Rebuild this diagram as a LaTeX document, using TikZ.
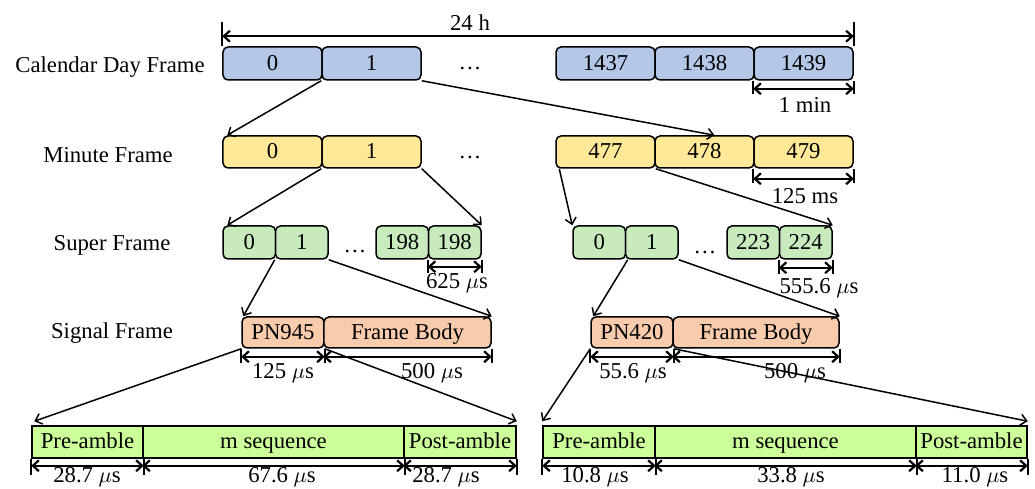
\documentclass[tikz,border=0pt]{standalone}
\usepackage{fontspec}
\setmainfont{Liberation Serif}
\usetikzlibrary{arrows.meta}

\definecolor{dayblue}{HTML}{B4C7E7}
\definecolor{minyellow}{HTML}{FFE999}
\definecolor{supgreen}{HTML}{C8EBBE}
\definecolor{sigorange}{HTML}{F8CBAD}
\definecolor{pktgreen}{HTML}{CCFF99}

\begin{document}
\begin{tikzpicture}[x=0.5bp, y=-0.5bp, font=\fontsize{11.4}{13}\selectfont,
    >={Straight Barb[length=3bp,width=5.5bp]},
    slot/.style={draw, line width=0.75bp, rounded corners=2.5bp, inner sep=0pt,
                 text height=7.8bp, text depth=0.8bp},
    dayslot/.style={slot, fill=dayblue, minimum width=49.5bp, minimum height=16.5bp},
    minslot/.style={slot, fill=minyellow, minimum width=49.5bp, minimum height=16bp},
    supslot/.style={slot, fill=supgreen, minimum width=26.25bp, minimum height=16.5bp},
    sigslot/.style={slot, fill=sigorange, minimum height=15.5bp},
    pktslot/.style={draw, line width=0.75bp, fill=pktgreen, inner sep=0pt, minimum height=16bp,
                    text height=7.8bp, text depth=1.2bp},
    link/.style={->, line width=0.75bp},
    dim/.style={<->, line width=1.1bp},
    tick/.style={line width=0.9bp}]
    \useasboundingbox (0,0) rectangle (1035,489);

    %%%%%%%%%%%%%%%%%%%%%%%%%%%%%%%%%%%%
    % row labels
    %%%%%%%%%%%%%%%%%%%%%%%%%%%%%%%%%%%%
    \node (rowday) at (110,67) {Calendar Day Frame};
    \node (rowmin) at (108,155) {Minute Frame};
    \node (rowsup) at (112,245) {Super Frame};
    \node (rowsig) at (112,333) {Signal Frame};

    %%%%%%%%%%%%%%%%%%%%%%%%%%%%%%%%%%%%
    % calendar day frame
    %%%%%%%%%%%%%%%%%%%%%%%%%%%%%%%%%%%%
    \node[dayslot] (cd0) at (272.5,63.5) {0};
    \node[dayslot] (cd1) at (371.5,63.5) {1};
    \node (cddots) at (470,68) {\ldots};
    \node[dayslot] (cd1437) at (605.5,63.5) {1437};
    \node[dayslot] (cd1438) at (704.5,63.5) {1438};
    \node[dayslot] (cd1439) at (803.5,63.5) {1439};

    \draw[tick] (cd0.north west) -- ++(0,-24);
    \draw[tick] (cd1439.north east) -- ++(0,-24);
    \draw[dim] ([shift={(0,-10)}]cd0.north west) -- ([shift={(0,-10)}]cd1439.north east);
    \node (lbl24h) at (470,23) {24 h};

    \draw[tick] (cd1439.south west) -- ++(0,13);
    \draw[tick] (cd1439.south east) -- ++(0,13);
    \draw[dim] ([shift={(0,8)}]cd1439.south west) -- ([shift={(0,8)}]cd1439.south east);
    \node (lbl1min) at (805,105) {1 min};

    %%%%%%%%%%%%%%%%%%%%%%%%%%%%%%%%%%%%
    % minute frame
    %%%%%%%%%%%%%%%%%%%%%%%%%%%%%%%%%%%%
    \node[minslot] (mf0) at (272.5,152) {0};
    \node[minslot] (mf1) at (371.5,152) {1};
    \node (mfdots) at (470,157) {\ldots};
    \node[minslot] (mf477) at (605.5,152) {477};
    \node[minslot] (mf478) at (704.5,152) {478};
    \node[minslot] (mf479) at (803.5,152) {479};

    \draw[tick] (mf479.south west) -- ++(0,14);
    \draw[tick] (mf479.south east) -- ++(0,14);
    \draw[dim] ([shift={(0,10)}]mf479.south west) -- ([shift={(0,10)}]mf479.south east);
    \node (lbl125ms) at (805,196) {125 ms};

    \draw[link] (cd1.south west) -- ([shift={(5,0)}]mf0.north west);
    \draw[link] (cd1.south east) -- ([shift={(10,0)}]mf478.north);

    %%%%%%%%%%%%%%%%%%%%%%%%%%%%%%%%%%%%
    % super frames
    %%%%%%%%%%%%%%%%%%%%%%%%%%%%%%%%%%%%
    \node[supslot] (sfa0) at (249.25,242.5) {0};
    \node[supslot] (sfa1) at (301.75,242.5) {1};
    \node (sfadots) at (355,251) {\ldots};
    \node[supslot] (sfa198) at (402.25,242.5) {198};
    \node[supslot] (sfa199) at (454.75,242.5) {198};

    \node[supslot] (sfb0) at (599.25,242.5) {0};
    \node[supslot] (sfb1) at (651.75,242.5) {1};
    \node (sfbdots) at (705,252) {\ldots};
    \node[supslot] (sfb223) at (753.25,242.5) {223};
    \node[supslot] (sfb224) at (805.75,242.5) {224};

    \draw[tick] (sfa199.south west) -- ++(0,13);
    \draw[tick] (sfa199.south east) -- ++(0,13);
    \draw[dim] ([shift={(0,7)}]sfa199.south west) -- ([shift={(0,7)}]sfa199.south east);
    \node (lbl625) at (457,283) {625 $\mu$s};

    \draw[tick] (sfb224.south west) -- ++(0,14);
    \draw[tick] (sfb224.south east) -- ++(0,14);
    \draw[dim] ([shift={(0,8)}]sfb224.south west) -- ([shift={(0,8)}]sfb224.south east);
    \node (lbl5556) at (819,288) {555.6 $\mu$s};

    \draw[link] (mf1.south west) -- ([shift={(5,0)}]sfa0.north west);
    \draw[link] (mf1.south east) -- (sfa199.north east);
    \draw[link] ([shift={(4,0)}]mf477.south west) -- (sfb0.north west);
    \draw[link] (mf477.south east) -- (sfb224.north east);

    %%%%%%%%%%%%%%%%%%%%%%%%%%%%%%%%%%%%
    % signal frames
    %%%%%%%%%%%%%%%%%%%%%%%%%%%%%%%%%%%%
    \node[sigslot, minimum width=41bp] (sga-pn) at (283,332.5) {PN945};
    \node[sigslot, minimum width=83.5bp] (sga-body) at (407.5,332.5) {Frame Body};
    \node[sigslot, minimum width=41bp] (sgb-pn) at (632,332.5) {PN420};
    \node[sigslot, minimum width=83bp] (sgb-body) at (756,332.5) {Frame Body};

    \foreach \a in {sga-pn.south west, sga-pn.south east, sga-body.south east,
                    sgb-pn.south west, sgb-pn.south east, sgb-body.south east}
        \draw[tick] (\a) -- ++(0,14);
    \draw[dim] ([shift={(0,8)}]sga-pn.south west) -- ([shift={(0,8)}]sga-pn.south east);
    \draw[dim] ([shift={(0,8)}]sga-body.south west) -- ([shift={(0,8)}]sga-body.south east);
    \draw[dim] ([shift={(0,8)}]sgb-pn.south west) -- ([shift={(0,8)}]sgb-pn.south east);
    \draw[dim] ([shift={(0,8)}]sgb-body.south west) -- ([shift={(0,8)}]sgb-body.south east);
    \node (lbl125us) at (283,373) {125 $\mu$s};
    \node (lbl500a) at (432,373) {500 $\mu$s};
    \node (lbl556) at (633,373) {55.6 $\mu$s};
    \node (lbl500b) at (795,373) {500 $\mu$s};

    \draw[link] (sfa1.south west) -- ([shift={(2,0)}]sga-pn.north west);
    \draw[link] (sfa1.south east) -- (sga-body.north east);
    \draw[link] ([shift={(3,0)}]sfb1.south west) -- ([shift={(3,0)}]sgb-pn.north west);
    \draw[link] (sfb1.south east) -- (sgb-body.north east);

    %%%%%%%%%%%%%%%%%%%%%%%%%%%%%%%%%%%%
    % PN sequences
    %%%%%%%%%%%%%%%%%%%%%%%%%%%%%%%%%%%%
    \node[pktslot, minimum width=55.5bp] (pka-pre) at (87.5,442) {Pre-amble};
    \node[pktslot, minimum width=130.5bp] (pka-seq) at (273.5,442) {m sequence};
    \node[pktslot, minimum width=56bp] (pka-post) at (460,442) {Post-amble};
    \node[pktslot, minimum width=56bp] (pkb-pre) at (599,442) {Pre-amble};
    \node[pktslot, minimum width=130.5bp] (pkb-seq) at (785.5,442) {m sequence};
    \node[pktslot, minimum width=55.5bp] (pkb-post) at (971.5,442) {Post-amble};

    \foreach \a in {pka-pre.south west, pka-pre.south east, pka-seq.south east, pka-post.south east,
                    pkb-pre.south west, pkb-pre.south east, pkb-seq.south east, pkb-post.south east}
        \draw[tick] (\a) -- ++(0,16);
    \foreach \b in {pka-pre, pka-seq, pka-post, pkb-pre, pkb-seq, pkb-post}
        \draw[dim] ([shift={(0,7)}]\b.south west) -- ([shift={(0,7)}]\b.south east);
    \node (lbla1) at (87,477) {28.7 $\mu$s};
    \node (lbla2) at (282,477) {67.6 $\mu$s};
    \node (lbla3) at (446,477) {28.7 $\mu$s};
    \node (lblb1) at (595,477) {10.8 $\mu$s};
    \node (lblb2) at (791,477) {33.8 $\mu$s};
    \node (lblb3) at (975,477) {11.0 $\mu$s};

    \draw[link] (sga-pn.south west) -- ([shift={(3,-4)}]pka-pre.north west);
    \draw[link] (sga-pn.south east) -- ([shift={(0,-4)}]pka-post.north east);
    \draw[link] (sgb-pn.south west) -- ([shift={(0,-4)}]pkb-pre.north west);
    \draw[link] (sgb-pn.south east) -- ([shift={(0,-4)}]pkb-post.north east);

\end{tikzpicture}
\end{document}
